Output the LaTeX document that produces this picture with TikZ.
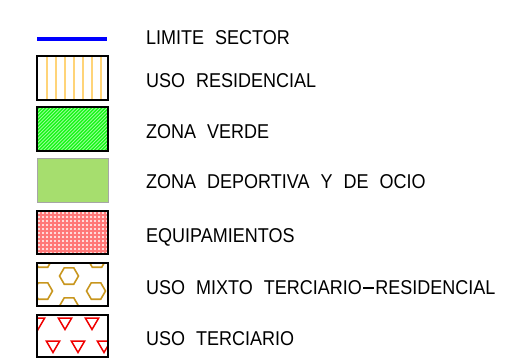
\documentclass[tikz,border=0pt]{standalone}
\usepackage{fontspec}
\setmainfont[FakeStretch=0.9]{Liberation Sans}
\definecolor{resid}{RGB}{255,212,120}
\definecolor{vgreen}{RGB}{20,245,20}
\definecolor{vline}{RGB}{150,255,150}
\definecolor{sport}{RGB}{166,222,110}
\definecolor{equip}{RGB}{255,120,120}
\definecolor{hexc}{RGB}{200,150,30}
\definecolor{tric}{RGB}{240,0,0}
\newcommand{\gap}{\hspace{11pt}}
\begin{document}
\begin{tikzpicture}[x=1pt,y=-1pt,
  lbl/.style={anchor=base west, inner sep=0pt, font=\fontsize{20}{20}\selectfont},
  boxb/.style={draw=black, line width=1.8pt}]
\useasboundingbox (0,0) rectangle (508,363);
% limite sector
\draw[blue, line width=4pt] (37,39) -- (107,39);
% residential
\begin{scope}
  \clip (37,56) rectangle (108,100);
  \foreach \x in {46.7,55.7,...,106} \draw[resid, line width=1.7pt] (\x,56) -- (\x,100);
\end{scope}
\draw[boxb] (37,56) rectangle (108,100);
% zona verde
\fill[vgreen] (37,107) rectangle (108,151);
\begin{scope}
  \clip (37,107) rectangle (108,151);
  \foreach \c in {-50,-46.5,...,110} \draw[vline, line width=0.9pt] (37+\c,151) -- (87+\c,101);
\end{scope}
\draw[boxb] (37,107) rectangle (108,151);
% zona deportiva
\fill[sport] (37,158) rectangle (108,202);
\draw[gray!70, line width=0.6pt] (37,158) rectangle (108,202);
% equipamientos
\fill[equip] (37,211) rectangle (108,254);
\begin{scope}
  \clip (37,211) rectangle (108,254);
  \foreach \i in {0,...,18} \foreach \j in {0,...,11}
    \fill[white] ({39+4*\i},{213+4*\j}) circle (1.05pt);
\end{scope}
\draw[boxb] (37,211) rectangle (108,254);
% uso mixto
\begin{scope}
  \clip (37,263) rectangle (108,306);
  \foreach \cx/\cy in {43/259, 97/259, 69/276, 43/291, 96/291, 69/306}
    \draw[hexc, line width=1.6pt] (\cx-9.5,\cy) -- (\cx-4.75,\cy-8.2) -- (\cx+4.75,\cy-8.2) -- (\cx+9.5,\cy) -- (\cx+4.75,\cy+8.2) -- (\cx-4.75,\cy+8.2) -- cycle;
\end{scope}
\draw[boxb] (37,263) rectangle (108,306);
% uso terciario
\begin{scope}
  \clip (37,315) rectangle (108,357);
  \foreach \cx/\cy in {38/318, 65/318, 92/318, 53/341, 78/341, 104/341}
    \draw[tric, line width=1.5pt] (\cx-6.7,\cy) -- (\cx+6.7,\cy) -- (\cx,\cy+11.5) -- cycle;
\end{scope}
\draw[boxb] (37,315) rectangle (108,357);
% labels
\node[lbl] (t1) at (146,45) {LIMITE\gap SECTOR};
\node[lbl] (t2) at (146,87.5) {USO\gap RESIDENCIAL};
\node[lbl] (t3) at (146,138.5) {ZONA\gap VERDE};
\node[lbl] (t4) at (146,189) {ZONA\gap DEPORTIVA\gap Y\gap DE\gap OCIO};
\node[lbl] (t5) at (146,242) {EQUIPAMIENTOS};
\node[lbl] (t6) at (146,294.5) {USO\gap MIXTO\gap TERCIARIO\hspace{1.5pt}\raisebox{6pt}{\rule{10.5pt}{1.5pt}}\hspace{1.5pt}RESIDENCIAL};
\node[lbl] (t7) at (146,345.5) {USO\gap TERCIARIO};
\end{tikzpicture}
\end{document}
